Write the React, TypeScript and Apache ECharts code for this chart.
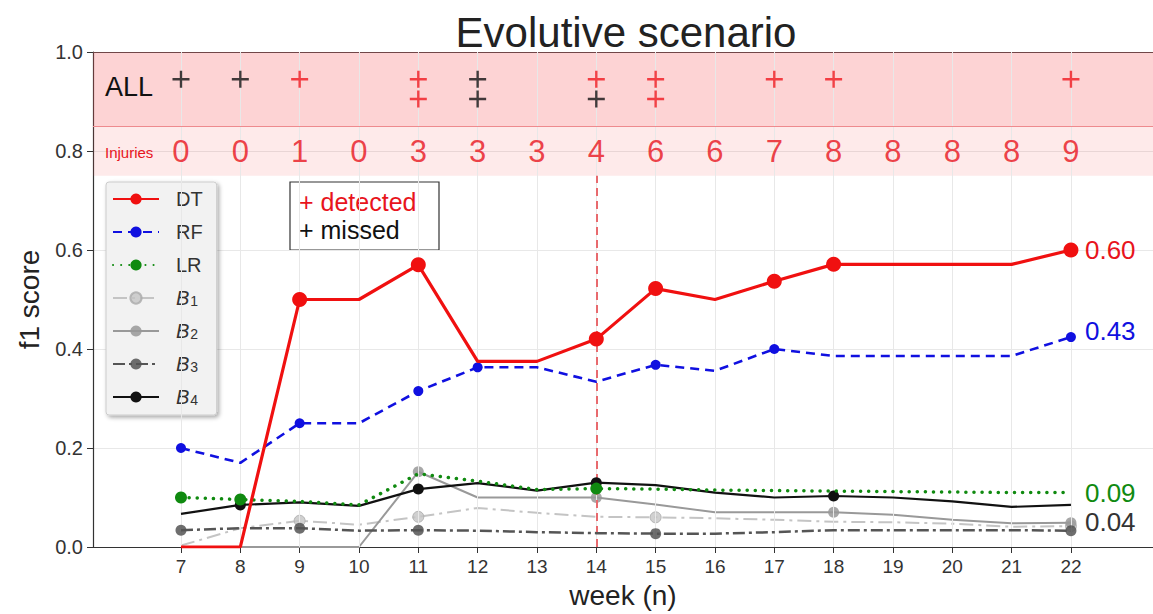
import React, { useEffect, useRef } from "react";
import * as echarts from "echarts";

// ---------- data ----------
const weeks = [7, 8, 9, 10, 11, 12, 13, 14, 15, 16, 17, 18, 19, 20, 21, 22];
const dtValues = [0, 0, 0.5, 0.5, 0.57, 0.375, 0.375, 0.42, 0.522, 0.5, 0.537, 0.571, 0.571, 0.571, 0.571, 0.6];
const rfValues = [0.2, 0.17, 0.25, 0.25, 0.315, 0.363, 0.363, 0.334, 0.368, 0.356, 0.4, 0.386, 0.386, 0.386, 0.386, 0.424];
const lrValues = [0.1, 0.096, 0.092, 0.085, 0.148, 0.133, 0.116, 0.118, 0.117, 0.115, 0.114, 0.113, 0.112, 0.111, 0.11, 0.11];
const b1Values = [0.003, 0.038, 0.053, 0.045, 0.061, 0.079, 0.069, 0.061, 0.06, 0.058, 0.055, 0.051, 0.05, 0.047, 0.041, 0.042];
const b2Values = [0, 0, 0, 0, 0.152, 0.1, 0.1, 0.1, 0.086, 0.07, 0.07, 0.07, 0.065, 0.055, 0.048, 0.049];
const b3Values = [0.034, 0.038, 0.038, 0.033, 0.034, 0.033, 0.03, 0.028, 0.027, 0.027, 0.03, 0.034, 0.034, 0.034, 0.034, 0.033];
const b4Values = [0.067, 0.085, 0.09, 0.083, 0.117, 0.129, 0.114, 0.13, 0.125, 0.11, 0.1, 0.103, 0.1, 0.092, 0.081, 0.085];

const dtMarks = [9, 11, 14, 15, 17, 18, 22];
const rfMarks = [7, 9, 11, 12, 15, 17, 22];
const lrMarks = [7, 8, 14];
const b1Marks = [9, 11, 15, 22];
const b2Marks = [11, 14, 18, 22];
const b3Marks = [7, 9, 11, 15, 22];
const b4Marks = [8, 11, 14, 18];

const injuries = [0, 0, 1, 0, 3, 3, 3, 4, 6, 6, 7, 8, 8, 8, 8, 9];
const row1Detected = [9, 11, 14, 15, 17, 18, 22];
const row1Missed = [7, 8, 12];
const row2Detected = [11, 15];
const row2Missed = [12, 14];

const endLabels = { DT: "0.60", RF: "0.43", LR: "0.09", B1: "0.04" };

// ---------- layout constants ----------
const FONT = "'Liberation Sans', Arial, Helvetica, sans-serif";
const XMIN = 5.517;
const XMAX = 23.383;
const ROW1 = 0.945;
const ROW2 = 0.905;
const INJ_ROW = 0.8;
const RED = "#e8141c";
const PLUS = "path://M7.4,0H9.8V17.2H7.4Z M0,7.4H17.2V9.8H0Z";
const endOffsets: any = { DT: [0, 0], RF: [0, -6], LR: [0, 0], B1: [0, -4] };

function lineData(vals: number[], marks: number[]) {
  return weeks.map((w, i) => ({
    value: [w, vals[i]],
    symbol: marks.includes(w) ? "circle" : "none",
  }));
}

function App() {
  const ref = useRef<HTMLDivElement>(null);

  useEffect(() => {
    if (!ref.current) return;
    const chart = echarts.init(ref.current, null, { renderer: "svg" });

    const mkLine = (
      name: string,
      vals: number[],
      marks: number[],
      color: string,
      width: number,
      type: any,
      symSize: number,
      z: number,
      extra: any = {}
    ) => ({
      type: "line",
      name,
      data: lineData(vals, marks),
      symbol: "circle",
      symbolSize: symSize,
      showAllSymbol: true,
      lineStyle: { color, width, type, ...(extra.cap ? { cap: extra.cap } : {}) },
      itemStyle: { color, ...(extra.itemStyle || {}) },
      z,
      silent: true,
      endLabel: (endLabels as any)[name]
        ? {
            show: true,
            formatter: (endLabels as any)[name],
            color: extra.labelColor || color,
            fontSize: 26,
            fontFamily: FONT,
            distance: 14,
            offset: endOffsets[name],
          }
        : undefined,
      ...(extra.markLine ? { markLine: extra.markLine } : {}),
    });

    const option: any = {
      animation: false,
      textStyle: { fontFamily: FONT },
      grid: { left: 93, right: 0, top: 52, bottom: 67, containLabel: false, outerBoundsMode: "none" },
      xAxis: [
        {
          type: "value",
          min: XMIN,
          max: XMAX,
          axisLine: { show: true, lineStyle: { color: "#333", width: 1.2 } },
          axisTick: { show: true, customValues: weeks, length: 6, lineStyle: { color: "#333" } },
          axisLabel: { show: true, customValues: weeks, fontSize: 19, color: "#333", margin: 10 },
          splitLine: { show: false },
          name: "week (n)",
          nameLocation: "middle",
          nameGap: 34,
          nameTextStyle: { fontSize: 28, color: "#222", fontFamily: FONT },
        },
        {
          type: "value",
          position: "top",
          min: XMIN,
          max: XMAX,
          axisLine: { show: true, lineStyle: { color: "#444", width: 1.2 } },
          axisTick: { show: false },
          axisLabel: { show: false },
          splitLine: { show: false },
        },
      ],
      yAxis: {
        type: "value",
        min: 0,
        max: 1,
        interval: 0.2,
        axisLine: { show: true, lineStyle: { color: "#333", width: 1.2 } },
        axisTick: { show: true, length: 6, lineStyle: { color: "#333" } },
        axisLabel: {
          fontSize: 20,
          color: "#333",
          margin: 10,
          formatter: (v: number) => v.toFixed(1),
        },
        splitLine: { show: true, lineStyle: { color: "#e8e8e8", width: 1 } },
        name: "f1 score",
        nameLocation: "middle",
        nameGap: 50,
        nameTextStyle: { fontSize: 28, color: "#222", fontFamily: FONT },
      },
      legend: {
        orient: "vertical",
        left: 106,
        top: 182,
        data: ["DT", "RF", "LR", "B1", "B2", "B3", "B4"],
        itemWidth: 46,
        itemHeight: 14,
        itemGap: 3,
        padding: [2, 14, 3, 6],
        backgroundColor: "#f2f2f2",
        borderColor: "#cccccc",
        borderWidth: 1,
        borderRadius: 3,
        shadowBlur: 4,
        shadowColor: "rgba(0,0,0,0.35)",
        shadowOffsetX: 2,
        shadowOffsetY: 2,
        selectedMode: false,
        formatter: (name: string) =>
          name.startsWith("B") ? `{i|B}{s|${name.slice(1)}}` : `{n|${name}}`,
        textStyle: {
          color: "#333",
          fontSize: 20,
          padding: [0, 0, 0, 12],
          rich: {
            n: { fontSize: 20, color: "#333", lineHeight: 20, padding: [5, 0, 5, 0] },
            i: { fontSize: 20, fontStyle: "italic", color: "#333", lineHeight: 20, padding: [5, 0, 5, 0] },
            s: { fontSize: 14, color: "#333", lineHeight: 20, verticalAlign: "bottom", padding: [10, 0, 0, 1] },
          },
        },
      },
      graphic: [
        {
          type: "text",
          x: 626,
          y: 32,
          z: 100,
          style: {
            text: "Evolutive scenario",
            fontSize: 42,
            fontFamily: FONT,
            fill: "#222",
            textAlign: "center",
            textVerticalAlign: "middle",
          },
        },
        {
          type: "text",
          x: 105,
          y: 87,
          z: 100,
          style: { text: "ALL", fontSize: 27, fontFamily: FONT, fill: "#111", textVerticalAlign: "middle" },
        },
        {
          type: "text",
          x: 105,
          y: 152,
          z: 100,
          style: { text: "Injuries", fontSize: 15, fontFamily: FONT, fill: RED, textVerticalAlign: "middle" },
        },
        {
          type: "group",
          x: 290,
          y: 182,
          z: 100,
          children: [
            {
              type: "rect",
              shape: { x: 0, y: 0, width: 149, height: 68 },
              style: { fill: "#fff", stroke: "#333", lineWidth: 1.2 },
            },
            {
              type: "text",
              x: 9,
              y: 20,
              style: { text: "+ detected", fontSize: 25, fontFamily: FONT, fill: RED, textVerticalAlign: "middle" },
            },
            {
              type: "text",
              x: 9,
              y: 48,
              style: { text: "+ missed", fontSize: 25, fontFamily: FONT, fill: "#111", textVerticalAlign: "middle" },
            },
          ],
        },
      ],
      series: [
        // background: band + vertical grid lines
        {
          type: "line",
          name: "_bg",
          data: [[XMIN, -1]],
          symbol: "none",
          silent: true,
          z: 1,
          lineStyle: { width: 0 },
          markArea: {
            silent: true,
            data: [
              [{ yAxis: 0.75, itemStyle: { color: "rgba(248,80,85,0.12)" } }, { yAxis: 0.85 }],
              [{ yAxis: 0.85, itemStyle: { color: "rgba(248,80,85,0.25)" } }, { yAxis: 1.0 }],
            ],
          },
          markLine: {
            silent: true,
            symbol: ["none", "none"],
            label: { show: false },
            lineStyle: { color: "#e8e8e8", width: 1, type: "solid" },
            data: [
              ...weeks.map((w) => ({ xAxis: w })),
              { yAxis: 0.85, lineStyle: { color: "#ee8a8e", width: 1.2, type: "solid" } },
            ],
          },
        },
        mkLine("B1", b1Values, b1Marks, "#c4c4c4", 2, [14, 5, 3, 5], 11, 3, {
          labelColor: "#333",
          itemStyle: { opacity: 0.8, borderColor: "#aaa", borderWidth: 1 },
        }),
        mkLine("B2", b2Values, b2Marks, "#999999", 2, "solid", 11, 4, { itemStyle: { opacity: 0.85 } }),
        mkLine("B3", b3Values, b3Marks, "#555555", 2.5, [12, 4, 3, 4], 11, 5, { itemStyle: { opacity: 0.85 } }),
        mkLine("B4", b4Values, b4Marks, "#111111", 2.2, "solid", 11, 6),
        mkLine("LR", lrValues, lrMarks, "#108a10", 3.5, [0.1, 8], 12, 7, { cap: "round" }),
        mkLine("RF", rfValues, rfMarks, "#1010e0", 2.6, [9, 6], 10, 8),
        mkLine("DT", dtValues, dtMarks, "#f01010", 3.2, "solid", 15, 10, {
          labelColor: RED,
          markLine: {
            silent: true,
            symbol: ["none", "none"],
            label: { show: false },
            lineStyle: { color: "#e86a6e", width: 2, type: [8, 5] },
            data: [[{ coord: [14, 0] }, { coord: [14, 0.75] }]],
          },
        }),
        // plus markers
        {
          type: "scatter",
          name: "_detected",
          silent: true,
          z: 12,
          symbol: PLUS,
          symbolSize: 17,
          itemStyle: { color: "#f0181e" },
          data: [...row1Detected.map((w) => [w, ROW1]), ...row2Detected.map((w) => [w, ROW2])],
        },
        {
          type: "scatter",
          name: "_missed",
          silent: true,
          z: 12,
          symbol: PLUS,
          symbolSize: 17,
          itemStyle: { color: "#111" },
          data: [...row1Missed.map((w) => [w, ROW1]), ...row2Missed.map((w) => [w, ROW2])],
        },
        // injuries counts
        {
          type: "scatter",
          name: "_injuries",
          silent: true,
          z: 12,
          symbolSize: 1,
          itemStyle: { color: "rgba(0,0,0,0)" },
          label: {
            show: true,
            position: "inside",
            formatter: (p: any) => String(p.value[2]),
            fontSize: 31,
            fontFamily: FONT,
            color: RED,
          },
          data: weeks.map((w, i) => [w, INJ_ROW, injuries[i]]),
        },
      ],
    };

    chart.setOption(option);
    return () => chart.dispose();
  }, []);

  return (
    <div
      ref={ref}
      style={{ position: "fixed", left: 0, top: 0, width: 1153, height: 614, background: "#fff" }}
    />
  );
}

export default App;
